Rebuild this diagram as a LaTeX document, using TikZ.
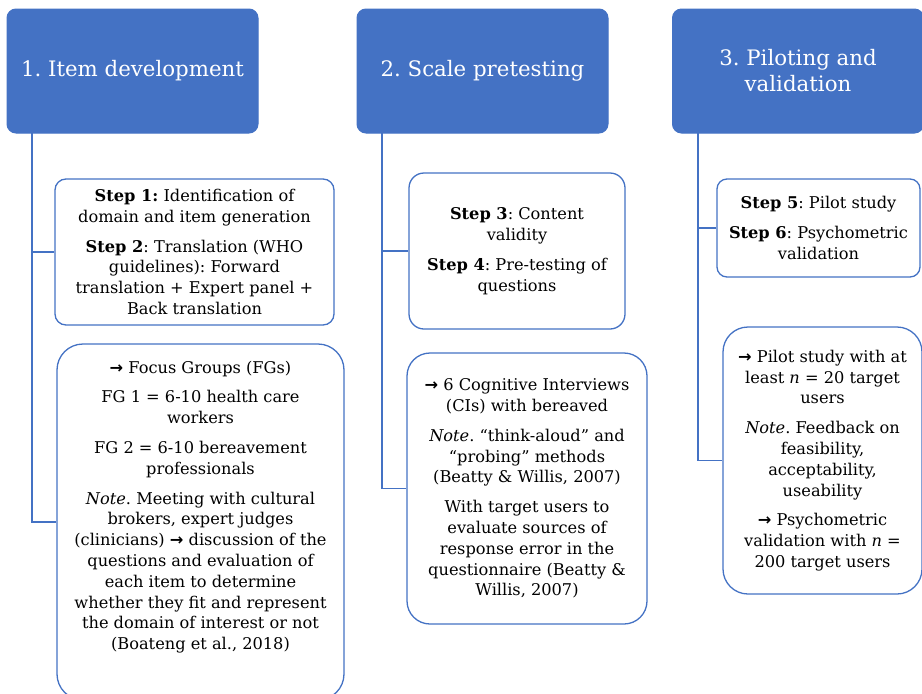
\documentclass[tikz,border=0pt]{standalone}
\usepackage{fontspec}
\setmainfont{DejaVu Serif}
\newfontfamily\arrowfont{DejaVu Sans}
\newcommand{\rarr}{{\arrowfont\bfseries →}}
\definecolor{hdrblue}{HTML}{4472C4}
\definecolor{lineblue}{HTML}{4472C4}
\tikzset{
  hdr/.style={draw=hdrblue, fill=hdrblue, rounded corners=9pt, line width=1pt,
    text=white, align=center, inner sep=0pt,
    font=\fontsize{21.3}{26}\selectfont},
  stepbox/.style={draw=lineblue, fill=white, line width=1.3pt, align=center, inner sep=0pt,
    font=\fontsize{16.2}{20.8}\selectfont, text=black},
  bodytxt/.style={align=center, inner sep=0pt, font=\fontsize{16.2}{20.8}\selectfont, text=black},
  trunk/.style={draw=lineblue, line width=1.4pt}
}
\begin{document}
\frenchspacing
\begin{tikzpicture}[x=1pt,y=-1pt]
\useasboundingbox (0,0) rectangle (922,694);
\begin{scope}
\clip (0,0) rectangle (922,694);
% headers
\node[hdr, minimum width=251pt, minimum height=124pt] (h1) at (132.5,71) {1. Item development};
\node[hdr, minimum width=251pt, minimum height=124pt] (h2) at (482.5,71) {2. Scale pretesting};
\node[hdr, minimum width=251pt, minimum height=124pt] (h3) at (798,71) {3. Piloting and\\validation};

% trunk coordinates
\coordinate (t1) at (32,133);
\coordinate (t2) at (382,133);
\coordinate (t3) at (698,133);

% column 1
\node[stepbox, rounded corners=11pt, minimum width=279pt, minimum height=146pt] (b1a) at (194.5,252)
 {\textbf{Step 1:} Identification of\\domain and item generation\\[9pt]
  \textbf{Step 2}: Translation (WHO\\guidelines): Forward\\translation + Expert panel +\\Back translation};
\node[stepbox, rounded corners=26pt, minimum width=287pt, minimum height=356pt] (b1b) at (200.5,522) {};
\node[bodytxt] (t1b) at (200.5,507)
 {\rarr{} Focus Groups (FGs)\\[9pt]
  FG 1 = 6-10 health care\\workers\\[9pt]
  FG 2 = 6-10 bereavement\\professionals\\[9pt]
  \textit{Note}. Meeting with cultural\\brokers, expert judges\\(clinicians) \rarr{} discussion of the\\questions and evaluation of\\each item to determine\\whether they fit and represent\\the domain of interest or not\\(Boateng et al., 2018)};

% column 2
\node[stepbox, rounded corners=15pt, minimum width=216pt, minimum height=156pt] (b2a) at (517,251)
 {\textbf{Step 3}: Content\\validity\\[9pt]
  \textbf{Step 4}: Pre-testing of\\questions};
\node[stepbox, rounded corners=23pt, minimum width=240pt, minimum height=271pt] (b2b) at (527,488.5)
 {\rarr{} 6 Cognitive Interviews\\(CIs) with bereaved\\[9pt]
  \textit{Note}. “think-aloud” and\\“probing” methods\\(Beatty \& Willis, 2007)\\[9pt]
  With target users to\\evaluate sources of\\response error in the\\questionnaire (Beatty \&\\Willis, 2007)};

% column 3
\node[stepbox, rounded corners=10pt, minimum width=203pt, minimum height=98pt] (b3a) at (818.5,228)
 {\textbf{Step 5}: Pilot study\\[9pt]
  \textbf{Step 6}: Psychometric\\validation};
\node[stepbox, rounded corners=25pt, minimum width=199pt, minimum height=267pt] (b3b) at (822.5,460.5)
 {\rarr{} Pilot study with at\\least \textit{n} = 20 target\\users\\[9pt]
  \textit{Note}. Feedback on\\feasibility,\\acceptability,\\useability\\[9pt]
  \rarr{} Psychometric\\validation with \textit{n} =\\200 target users};

% connectors
\draw[trunk] (t1) |- (b1a.west);
\draw[trunk] (t1) |- (b1b.west);
\draw[trunk] (t2) |- (b2a.west);
\draw[trunk] (t2) |- (b2b.west);
\draw[trunk] (t3) |- (b3a.west);
\draw[trunk] (t3) |- (b3b.west);
\end{scope}
\end{tikzpicture}
\end{document}
